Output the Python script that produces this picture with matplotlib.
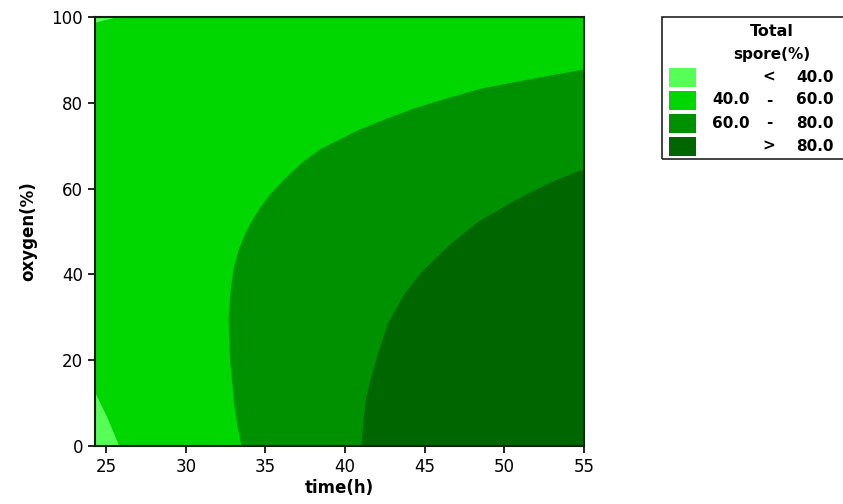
import numpy as np
import matplotlib
matplotlib.use('Agg')
import matplotlib.pyplot as plt
from matplotlib.patches import Rectangle

# Limites dos eixos
x_min, x_max = 24.3, 55
y_min, y_max = 0, 100

# Fronteiras (time, oxygen)
# fronteira 40 (canto inferior esquerdo)
y_b40 = [0, 6.8, 12.4]
x_b40 = [25.8, 25.04, 24.3]
# pequeno pedaço no canto superior esquerdo
x_b40_top = [24.3, 25.6]
y_b40_top = [98.8, 100]
# fronteira 60
y_b60 = [0, 5, 10, 20, 30, 37, 42, 46, 50, 53.4, 56, 58.5, 62.5, 66.3, 69.4, 71.7,
         73.7, 76.3, 78.8, 81.2, 83.4, 85.0, 86.5, 87.9]
x_b60 = [33.47, 33.2, 33.0, 32.75, 32.65, 32.8, 33.0, 33.3, 33.75, 34.25, 34.7, 35.2,
         36.2, 37.3, 38.46, 39.7, 40.77, 42.5, 44.3, 46.4, 48.5, 50.7, 52.9, 55]
# fronteira 80
y_b80 = [0, 5, 11.5, 16, 22.4, 28.6, 35.6, 41.0, 47.2, 52.3, 57.3, 61.6, 64.7]
x_b80 = [41.0, 41.1, 41.3, 41.6, 42.1, 42.65, 43.7, 44.85, 46.6, 48.3, 50.6, 52.9, 55]

cores = ['#55ff55', '#00d600', '#009100', '#006600']
faixas = [('', '<', '40.0'), ('40.0', '-', '60.0'), ('60.0', '-', '80.0'), ('', '>', '80.0')]

W, H = 843, 504
fig = plt.figure(figsize=(W / 100, H / 100), dpi=100)
ax = fig.add_axes([95 / W, 1 - 446 / H, (584 - 95) / W, (446 - 17) / H])

ax.set_facecolor(cores[1])
ax.fill_betweenx(y_b40, x_min, x_b40, color=cores[0], lw=0)
ax.fill_between(x_b40_top, y_b40_top, y_max, color=cores[0], lw=0)
ax.fill_betweenx(y_b60, x_b60, x_max, color=cores[2], lw=0)
ax.fill_betweenx(y_b80, x_b80, x_max, color=cores[3], lw=0)

ax.set_xlim(x_min, x_max)
ax.set_ylim(y_min, y_max)
ax.set_xticks([25, 30, 35, 40, 45, 50, 55])
ax.set_yticks([0, 20, 40, 60, 80, 100])
ax.tick_params(direction='out', length=5, width=1.2, labelsize=12, colors='black')
for s in ax.spines.values():
    s.set_linewidth(1.5)
    s.set_color('#102010')

ax.set_xlabel('time(h)', fontsize=12, fontweight='bold', labelpad=2)
ax.set_ylabel('oxygen(%)', fontsize=12, fontweight='bold', labelpad=10)

# Legenda desenhada à mão
def fx(px):
    return px / W

def fy(py):
    return 1 - py / H

fig.patches.append(Rectangle((fx(662), fy(159)), fx(190), (159 - 17) / H,
                             transform=fig.transFigure, fill=False, ec='#222222', lw=1.2))
fig.text(fx(772), fy(32), 'Total', ha='center', va='center', fontsize=11.5, fontweight='bold')
fig.text(fx(772), fy(55), 'spore(%)', ha='center', va='center', fontsize=11, fontweight='bold')
linhas_y = [77, 100, 123, 146]
for cor, (a, sep, b), yy in zip(cores, faixas, linhas_y):
    fig.patches.append(Rectangle((fx(669), fy(yy + 9.5)), fx(27), 19 / H,
                                 transform=fig.transFigure, fc=cor, ec='none'))
    if a:
        fig.text(fx(712), fy(yy), a, ha='left', va='center', fontsize=11, fontweight='bold')
    fig.text(fx(769), fy(yy), sep, ha='center', va='center', fontsize=11, fontweight='bold')
    fig.text(fx(834), fy(yy), b, ha='right', va='center', fontsize=11, fontweight='bold')

fig.savefig('out.png', dpi=100)
